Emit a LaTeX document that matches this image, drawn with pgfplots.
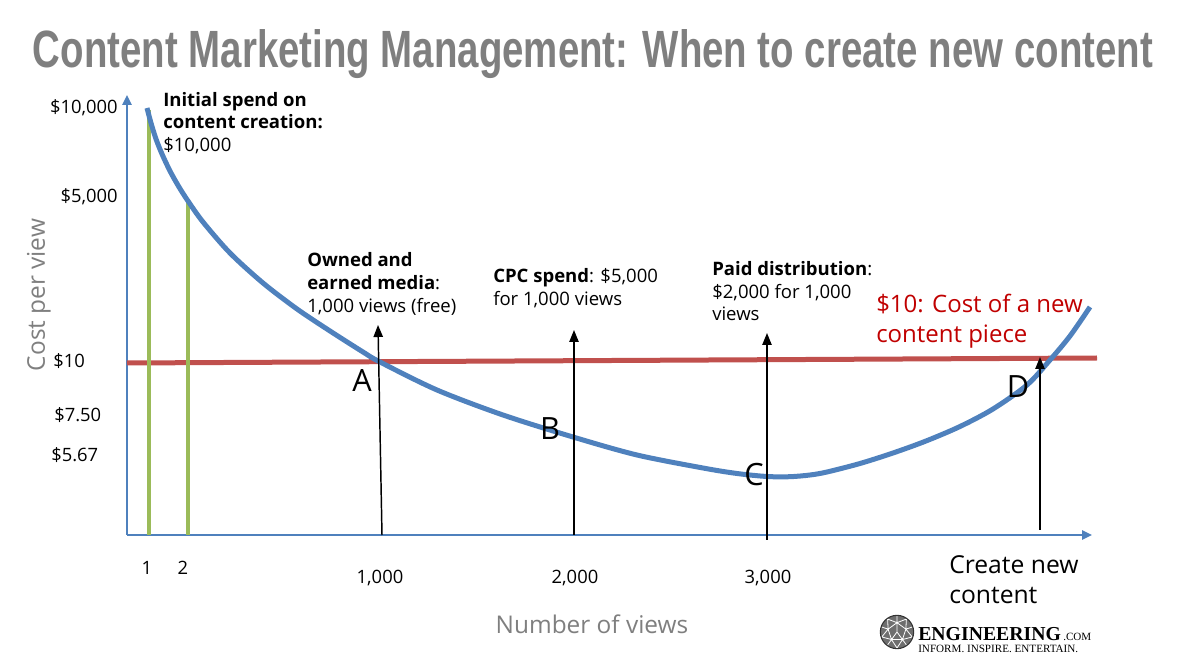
\documentclass[border=0pt]{standalone}
\usepackage{pgfplots}
\pgfplotsset{compat=1.18}
\usepackage{fontspec}
\usetikzlibrary{arrows.meta}
\setmainfont{Open Sans}
\newfontfamily\titlefont{Liberation Sans}
\newfontfamily\logofont{Liberation Serif}

\definecolor{axisblue}{HTML}{4F81BD}
\definecolor{costred}{HTML}{C0504D}
\definecolor{textred}{HTML}{C00000}
\definecolor{spendgreen}{HTML}{9BBB59}
\definecolor{labelgray}{HTML}{7F7F7F}
\definecolor{logogray}{HTML}{6E6E6E}

% text placed with its first baseline at a given point
\newcommand{\txt}[4][]{\node[anchor=base west, inner sep=0pt, #1] at (axis cs:#2,#3) {#4};}
\newcommand{\annot}{\fontsize{13.9pt}{16pt}\selectfont}
\newcommand{\ticks}{\fontsize{13.8pt}{16pt}\selectfont}
\newcommand{\point}{\fontsize{23pt}{26pt}\selectfont}

\begin{document}
\begin{tikzpicture}
\begin{axis}[
  x=0.75pt, y=0.75pt,
  xmin=127, xmax=1092, ymin=129, ymax=569,
  axis lines=left,
  axis line style={axisblue, line width=1.5pt, -{Triangle[length=7.5pt,width=7pt]}},
  xtick=\empty, ytick=\empty,
  clip=false,
]
% page frame
\path (axis cs:0,0) rectangle (axis cs:1183,664);

% cost of producing a new piece of content
\addplot[costred, line width=3.75pt] coordinates {(127,301) (1097,306)};

% first and second view
\addplot[spendgreen, line width=3pt] coordinates {(149,129) (149,554)};
\addplot[spendgreen, line width=3pt] coordinates {(188,129) (188,463)};

% cost per view
\addplot[axisblue, line width=3.75pt, smooth] coordinates {
  (147,556) (151,541) (156,525) (162,510) (170,493) (179,477) (188,463)
  (203,442) (230,411) (263,381) (297,355) (330,333) (363,312) (380,302)
  (437,274) (503,249) (573,227) (637,209) (703,196) (737,190.5) (767,187.5)
  (790,187.3) (810,189) (827,192) (860,200.5) (893,211) (926,223) (960,237.5)
  (993,255) (1027,279) (1050,304) (1070,328) (1090,357)
};

% markers for each distribution stage
\addplot[black, line width=1.1pt, -{Triangle[length=9pt,width=7pt]}] coordinates {(382,129) (378,339)};
\addplot[black, line width=1.1pt, -{Triangle[length=9pt,width=7pt]}] coordinates {(574,129) (574,334)};
\addplot[black, line width=1.1pt, -{Triangle[length=9pt,width=7pt]}] coordinates {(767,124) (767,331)};
\addplot[black, line width=1.1pt, -{Triangle[length=9pt,width=7pt]}] coordinates {(1040,134) (1040,307)};

% title
\node[anchor=base, inner sep=0pt, text=labelgray] at (axis cs:593,596)
  {\resizebox{840pt}{28.5pt}{\titlefont\bfseries Content Marketing Management: When to create new content}};

% y tick labels
\txt[anchor=base east]{118}{550}{\ticks\$10,000}
\txt[anchor=base east]{118}{461}{\ticks\$5,000}
\txt{53}{296}{\ticks\$10}
\txt{54}{242}{\ticks\$7.50}
\txt{51}{202}{\ticks\$5.67}

% x tick labels
\txt[anchor=base]{147}{89}{\ticks 1}
\txt[anchor=base]{183}{89}{\ticks 2}
\txt[anchor=base]{380}{81}{\ticks 1,000}
\txt[anchor=base]{575}{81}{\ticks 2,000}
\txt[anchor=base]{768}{81}{\ticks 3,000}
\txt{949}{91}{\fontsize{18.5pt}{22pt}\selectfont Create new}
\txt{949}{61}{\fontsize{18.5pt}{22pt}\selectfont content}

% axis titles
\txt[anchor=base, text=labelgray]{592}{31}{\fontsize{18.3pt}{20pt}\selectfont Number of views}
\txt[anchor=base, rotate=90, text=labelgray]{45}{369}{\fontsize{18.3pt}{20pt}\selectfont Cost per view}

% annotations
\txt{163}{557}{\annot\bfseries Initial spend on}
\txt{163}{535}{\annot\bfseries content creation:}
\txt{163}{512}{\annot\$10,000}

\txt{307}{397}{\annot\bfseries Owned and}
\txt{307}{374}{\annot\textbf{earned media}:}
\txt{307}{351}{\annot 1,000 views (free)}

\txt{493}{381}{\annot\textbf{CPC spend}: \$5,000}
\txt{493}{358}{\annot for 1,000 views}

\txt{712}{388}{\annot\textbf{Paid distribution}:}
\txt{712}{365}{\annot\$2,000 for 1,000}
\txt{712}{343}{\annot views}

\txt[text=textred]{876}{351}{\fontsize{18pt}{22pt}\selectfont\$10: Cost of a new}
\txt[text=textred]{876}{321}{\fontsize{18pt}{22pt}\selectfont content piece}

% stage letters
\txt[anchor=base]{362}{272}{\point A}
\txt[anchor=base]{550}{224}{\point B}
\txt[anchor=base]{754}{179}{\point C}
\txt[anchor=base]{1018}{266}{\point D}

% publisher mark
\coordinate (logo) at (axis cs:897,32);
\txt{918}{24}{\resizebox{107pt}{!}{\logofont\bfseries ENGINEERING}}
\txt{1063}{24}{\resizebox{21pt}{!}{\logofont .COM}}
\txt{918}{12}{\resizebox{120pt}{!}{\logofont INFORM. INSPIRE. ENTERTAIN.}}
\end{axis}

\begin{scope}[shift={(logo)}]
  \fill[logogray] (0,0) circle (12.5pt);
  \draw[white, line width=0.6pt]
    (90:7pt) -- (162:7pt) -- (234:7pt) -- (306:7pt) -- (18:7pt) -- cycle
    (90:7pt) -- (90:12pt) (162:7pt) -- (162:12pt) (234:7pt) -- (234:12pt)
    (306:7pt) -- (306:12pt) (18:7pt) -- (18:12pt)
    (54:12pt) -- (90:7pt) (54:12pt) -- (18:7pt)
    (126:12pt) -- (90:7pt) (126:12pt) -- (162:7pt)
    (198:12pt) -- (162:7pt) (198:12pt) -- (234:7pt)
    (270:12pt) -- (234:7pt) (270:12pt) -- (306:7pt)
    (342:12pt) -- (306:7pt) (342:12pt) -- (18:7pt)
    (0,0) -- (90:7pt) (0,0) -- (234:7pt) (0,0) -- (306:7pt);
  \draw[black!80, line width=0.8pt] (0,0) circle (12.5pt);
\end{scope}
\end{tikzpicture}
\end{document}
